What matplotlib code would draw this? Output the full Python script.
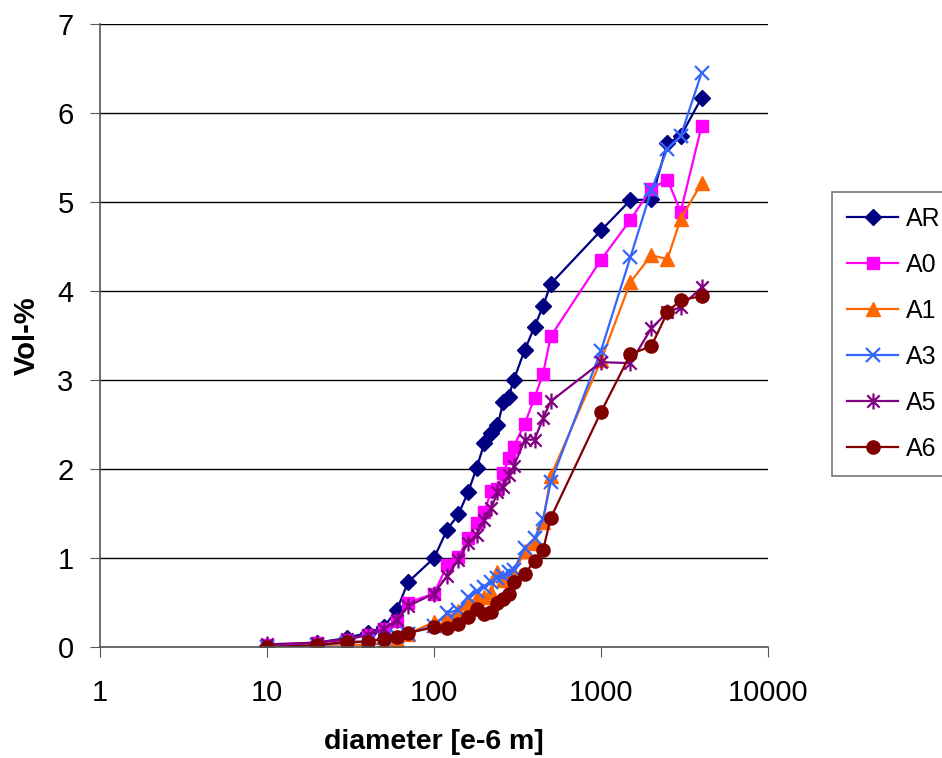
import numpy as np
import matplotlib
matplotlib.use("Agg")
import matplotlib.pyplot as plt
from matplotlib.path import Path

# sieve diameters [e-6 m]
diameter = [10, 20, 30, 40, 50, 60, 70, 100, 120, 140, 160, 180, 200, 220,
            240, 260, 280, 300, 350, 400, 450, 500, 1000, 1500, 2000, 2500,
            3000, 4000]

ar = [0.01, 0.05, 0.1, 0.16, 0.22, 0.42, 0.73, 1.0, 1.32, 1.49, 1.74, 2.01,
      2.29, 2.4, 2.49, 2.75, 2.81, 3.0, 3.34, 3.6, 3.83, 4.08, 4.68, 5.02,
      5.03, 5.66, 5.74, 6.17]
a0 = [0.02, 0.05, 0.08, 0.14, 0.2, 0.29, 0.5, 0.6, 0.92, 1.01, 1.23, 1.39,
      1.52, 1.75, 1.77, 1.95, 2.12, 2.25, 2.51, 2.8, 3.07, 3.49, 4.35, 4.8,
      5.15, 5.25, 4.89, 5.85]
a1 = [0.0, 0.02, 0.03, 0.02, 0.05, 0.08, 0.15, 0.28, 0.34, 0.4, 0.5, 0.55,
      0.56, 0.62, 0.84, 0.75, 0.78, 0.82, 1.08, 1.17, 1.41, 1.92, 3.22, 4.1,
      4.4, 4.36, 4.81, 5.21]
a3 = [0.0, 0.02, 0.05, 0.06, 0.1, 0.12, 0.15, 0.24, 0.38, 0.42, 0.56, 0.63,
      0.67, 0.73, 0.78, 0.8, 0.84, 0.87, 1.11, 1.22, 1.44, 1.85, 3.33, 4.38,
      5.13, 5.6, 5.74, 6.45]
a5 = [0.03, 0.05, 0.09, 0.13, 0.2, 0.3, 0.46, 0.6, 0.8, 0.98, 1.17, 1.26,
      1.43, 1.56, 1.74, 1.8, 1.93, 2.03, 2.33, 2.33, 2.57, 2.76, 3.2, 3.19,
      3.58, 3.76, 3.82, 4.04]
a6 = [0.0, 0.02, 0.06, 0.06, 0.09, 0.11, 0.16, 0.22, 0.21, 0.26, 0.34, 0.43,
      0.37, 0.39, 0.5, 0.54, 0.6, 0.73, 0.82, 0.97, 1.09, 1.45, 2.64, 3.29,
      3.38, 3.76, 3.9, 3.94]

labels = ["AR", "A0", "A1", "A3", "A5", "A6"]

# excel style asterisk: x with a vertical bar
star = Path([(-1, -1), (1, 1), (-1, 1), (1, -1), (0, -1.3), (0, 1.3)],
            [Path.MOVETO, Path.LINETO] * 3)

styles = [
    dict(color="#000080", marker="D", ms=8),
    dict(color="#FF00FF", marker="s", ms=9),
    dict(color="#FF6600", marker="^", ms=9.5),
    dict(color="#3366FF", marker="x", ms=9.5, mew=1.6),
    dict(color="#800080", marker=star, ms=11.5, mew=1.6),
    dict(color="#800000", marker="o", ms=9.5),
]

plt.rcParams["font.family"] = ["Liberation Sans", "DejaVu Sans"]

fig = plt.figure(figsize=(9.42, 7.58), dpi=100)
ax = fig.add_axes([100 / 942, 1 - 647 / 758, 668 / 942, 623 / 758])

for lab, ys, st in zip(labels, [ar, a0, a1, a3, a5, a6], styles):
    ax.plot(diameter, ys, label=lab, lw=1.6, **st)

ax.set_xscale("log")
ax.set_xlim(1, 10000)
ax.set_ylim(0, 7)
ax.set_xticks([1, 10, 100, 1000, 10000])
ax.set_xticklabels(["1", "10", "100", "1000", "10000"])
ax.xaxis.set_minor_locator(matplotlib.ticker.NullLocator())
ax.set_yticks(range(8))
ax.yaxis.grid(True, color="black", lw=1)
ax.set_axisbelow(True)

for s in ["top", "right"]:
    ax.spines[s].set_visible(False)
for s in ["left", "bottom"]:
    ax.spines[s].set_color("#555555")
    ax.spines[s].set_linewidth(1.2)

ax.tick_params(axis="both", direction="out", length=7, color="#555555",
               labelsize=21)
ax.tick_params(axis="x", pad=16)
ax.tick_params(axis="y", pad=12)

ax.set_xlabel("diameter [e-6 m]", fontsize=20.5, fontweight="bold", labelpad=16)
ax.set_ylabel("Vol-%", fontsize=21, fontweight="bold", labelpad=12)

leg = fig.legend(loc="upper left", bbox_to_anchor=(832 / 942, 1 - 192 / 758),
                 bbox_transform=fig.transFigure, borderaxespad=0,
                 frameon=True, fancybox=False, edgecolor="#555555",
                 handlelength=2.05, handletextpad=0.3, labelspacing=0.88,
                 borderpad=0.6, prop={"size": 18})
leg.get_frame().set_linewidth(1.2)

fig.savefig("out.png", dpi=100)
